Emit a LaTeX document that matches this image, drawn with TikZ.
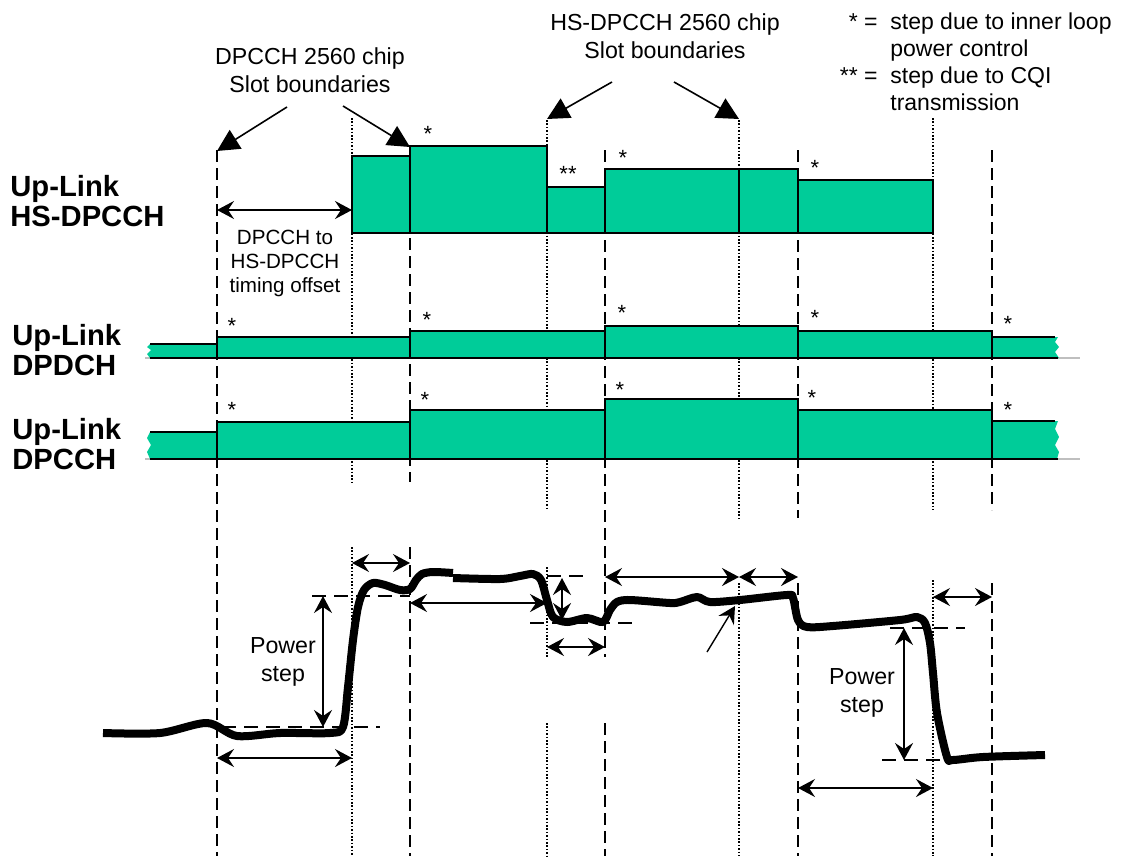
\documentclass[tikz,border=0pt]{standalone}
\usepackage{fontspec}
\setmainfont{Liberation Sans}
\usetikzlibrary{arrows.meta}
\definecolor{slotgreen}{RGB}{0,204,153}
\tikzset{
  slotbox/.style={fill=slotgreen,draw=black,line width=1.2pt},
  dpbnd/.style={line width=1pt,dash pattern=on 6pt off 3pt},
  hsbnd/.style={line width=0.8pt,dash pattern=on 0.8pt off 0.9pt},
  refline/.style={line width=0.8pt,dash pattern=on 7pt off 4pt},
  span/.style={line width=0.8pt,{Stealth[length=8.5pt,width=9pt,inset=3pt]}-{Stealth[length=8.5pt,width=9pt,inset=3pt]}},
  pointer/.style={line width=0.7pt,-{Stealth[length=8.5pt,width=9pt,inset=3pt]}},
  callout/.style={line width=0.8pt,-{Triangle[length=11pt,width=11pt]}},
  txt/.style={font=\fontsize{11.6}{14}\selectfont,align=center,inner sep=0pt},
  smalltxt/.style={font=\fontsize{10.3}{12}\selectfont,align=center,inner sep=0pt},
  chname/.style={font=\fontsize{14.6}{15.2}\selectfont\bfseries,align=left,anchor=west,inner sep=0pt},
  steplbl/.style={font=\fontsize{11}{12}\selectfont,inner sep=0pt},
  power/.style={line width=4pt,line join=round}
}
\begin{document}
\begin{tikzpicture}[x=0.5pt,y=-0.5pt]
\useasboundingbox (0,0) rectangle (1128,856);

% slot boundaries: dashed = DPCCH, dotted = HS-DPCCH
\draw[dpbnd] (217,150)--(217,856);
\draw[dpbnd] (410,148)--(410,482) (410,547)--(410,856);
\draw[dpbnd] (605,150)--(605,657) (605,723)--(605,856);
\draw[dpbnd] (798,150)--(798,518) (798,583)--(798,856);
\draw[dpbnd] (992,150)--(992,510) (992,583)--(992,856);
\draw[hsbnd] (352,118)--(352,482) (352,547)--(352,856);
\draw[hsbnd] (547,120)--(547,510) (547,567)--(547,657) (547,723)--(547,856);
\draw[hsbnd] (739,120)--(739,518) (739,583)--(739,856);
\draw[hsbnd] (933,118)--(933,510) (933,580)--(933,856);

% baselines
\draw[black!25,line width=0.6pt] (145,358)--(1080,358) (145,459)--(1080,459);

% HS-DPCCH
\draw[slotbox] (352,233) rectangle (410,156);
\draw[slotbox] (410,233) rectangle (547,146);
\draw[slotbox] (547,233) rectangle (605,187);
\draw[slotbox] (605,233) rectangle (739,169);
\draw[slotbox] (739,233) rectangle (798,169);
\draw[slotbox] (798,233) rectangle (933,180);

% DPDCH
\fill[slotgreen] (150,344)--(217,344)--(217,358)--(150,358)--(147,354)--(151,350)--(147,347)--cycle;
\fill[slotgreen] (992,337)--(1058,337)--(1055,342)--(1059,347)--(1055,352)--(1059,358)--(992,358)--cycle;
\draw[line width=1.2pt] (150,344)--(217,344) (150,358)--(217,358);
\draw[line width=1.2pt] (992,337)--(1055,337) (992,358)--(1058,358);
\draw[slotbox] (217,358) rectangle (410,337);
\draw[slotbox] (410,358) rectangle (605,331);
\draw[slotbox] (605,358) rectangle (798,326);
\draw[slotbox] (798,358) rectangle (992,331);

% DPCCH
\fill[slotgreen] (150,432)--(217,432)--(217,459)--(150,459)--(147,452)--(151,445)--(147,438)--cycle;
\fill[slotgreen] (992,421)--(1058,421)--(1055,429)--(1059,437)--(1055,445)--(1059,452)--(1057,459)--(992,459)--cycle;
\draw[line width=1.2pt] (150,432)--(217,432) (150,459)--(217,459);
\draw[line width=1.2pt] (992,421)--(1055,421) (992,459)--(1058,459);
\draw[slotbox] (217,459) rectangle (410,422);
\draw[slotbox] (410,459) rectangle (605,410);
\draw[slotbox] (605,459) rectangle (798,399);
\draw[slotbox] (798,459) rectangle (992,410);
\draw[slotbox] (992,459) -- (992,421);

% step marks
\foreach \x/\y in {428/134,623/158,815/168,232/326,427/320,622/313,815/318,1008/324,232/410,425/400,620/390,812/398,1008/410}
  \node[steplbl] at (\x,\y) {*};
\node[steplbl] (cqi) at (568,174) {**};

% channel names
\node[chname] (lhs) at (10,201) {Up-Link\\HS-DPCCH};
\node[chname] (ldpdch) at (12,350) {Up-Link\\DPDCH};
\node[chname] (ldpcch) at (12,444) {Up-Link\\DPCCH};

% top texts
\node[txt] (dpslots) at (310,70) {DPCCH 2560 chip\\Slot boundaries};
\node[txt] (hsslots) at (665,36) {HS-DPCCH 2560 chip\\Slot boundaries};
\node[txt,anchor=north east,align=left,font=\fontsize{11.5}{13.5}\selectfont] (note) at (1112,10)
  {\begin{tabular}{@{}r@{\ \ }l@{}}{*}\ = & step due to inner loop\\ & power control\\ {**} = & step due to CQI\\ & transmission\end{tabular}};
\draw[callout] (287,107) -- (217,151);
\draw[callout] (343,106) -- (410,147);
\draw[callout] (612,82) -- (547,119);
\draw[callout] (674,82) -- (739,119);

% timing offset
\draw[span] (217,210) -- (352,210);
\node[smalltxt] (offset) at (285,263) {DPCCH to\\HS-DPCCH\\timing offset};

% power curve
\draw[power] plot[smooth,tension=0.5] coordinates {(103,733) (160,733) (207,723) (237,736) (280,733) (330,733) (343,727) (348,687) (353,640) (358,607) (364,590) (373,583) (385,585) (400,590) (410,589) (416,580) (422,574) (433,572) (453,573)};
\draw[power] plot[smooth,tension=0.5] coordinates {(453,578) (500,579) (520,576) (533,574) (541,580) (547,600) (553,617) (567,622) (587,618) (603,622) (610,610) (617,602) (630,600) (670,603) (680,602) (697,597) (710,602) (740,600) (787,595) (793,598) (798,620) (807,627) (833,626) (900,620) (917,617) (925,623) (930,643) (933,673) (937,713) (947,757) (953,760) (983,757) (1045,755)};

% reference levels
\draw[refline] (312,596)--(410,596) (222,727)--(380,727);
\draw[refline] (547,576)--(583,576) (530,623)--(632,623);
\draw[refline] (890,628)--(965,628) (882,760)--(940,760);

% power steps
\draw[span] (323,596) -- (323,727);
\node[txt] (stepA) at (283,662) {Power\\step};
\draw[span] (904,628) -- (904,760);
\node[txt] (stepB) at (862,693) {Power\\step};
\draw[span] (562,578) -- (562,620);

% slot spans
\draw[span] (352,563) -- (410,563);
\draw[span] (410,603) -- (547,603);
\draw[span] (547,647) -- (605,647);
\draw[span] (605,577) -- (739,577);
\draw[span] (739,577) -- (798,577);
\draw[span] (933,597) -- (992,597);
\draw[span] (217,758) -- (352,758);
\draw[span] (798,788) -- (933,788);
\draw[pointer] (707,652) -- (735,606);
\end{tikzpicture}
\end{document}
